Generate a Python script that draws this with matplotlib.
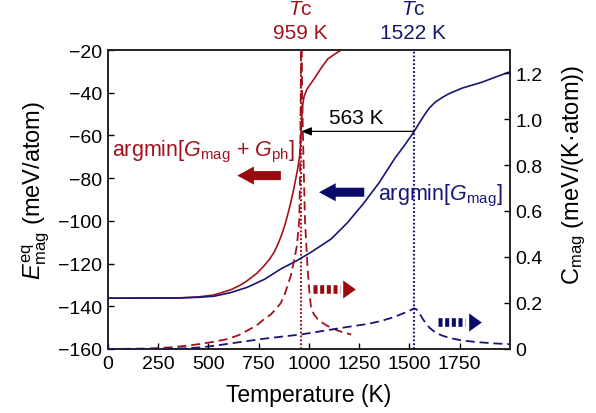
import matplotlib
matplotlib.use("Agg")
import matplotlib.pyplot as plt
from matplotlib.ticker import FixedLocator, FuncFormatter

plt.rcParams['font.family'] = ['Liberation Sans', 'DejaVu Sans']
plt.rcParams['mathtext.fontset'] = 'custom'
plt.rcParams['mathtext.rm'] = 'Liberation Sans'
plt.rcParams['mathtext.it'] = 'Liberation Sans:italic'
plt.rcParams['mathtext.bf'] = 'Liberation Sans:bold'
plt.rcParams['lines.scale_dashes'] = False

RED = '#a3121c'
BLUE = '#161675'
RED_ARROW = '#980a10'
BLUE_ARROW = '#0a0a6a'

# ---- data ----
# E_mag^eq from argmin[G_mag + G_ph] (left axis, meV/atom)
T_red_E = [0, 250, 350, 450, 527, 610, 660, 693, 740, 777, 805, 827, 845, 860, 880, 900,
           920, 943, 953, 958, 961, 964, 968, 975, 990, 1025, 1060, 1093, 1130, 1160, 1200]
E_red = [-136.2, -136.2, -136.1, -135.6, -134.7, -132.3, -130.0, -128.0, -124.6, -121.0,
         -117.8, -114.6, -111.0, -107.5, -102.0, -95.0, -87.0, -76.0, -70.0, -64.0, -58.0,
         -52.0, -46.0, -42.0, -38.3, -33.6, -28.5, -24.2, -21.8, -20.0, -17.0]

# E_mag^eq from argmin[G_mag] (left axis)
T_blue_E = [0, 350, 450, 527, 610, 693, 780, 860, 940, 1010, 1110, 1190, 1270, 1350, 1425,
            1480, 1522, 1550, 1577, 1600, 1627, 1660, 1693, 1760, 1860, 1930, 2000]
E_blue = [-136.2, -136.1, -135.8, -135.3, -133.6, -131.1, -127.3, -122.5, -118.6, -114.7,
          -108.5, -101.0, -92.0, -82.0, -71.0, -64.0, -58.3, -54.0, -50.0, -47.0, -44.5,
          -42.4, -40.6, -37.9, -35.1, -32.6, -30.2]

# C_mag from argmin[G_mag + G_ph] (right axis, meV/(K atom))
T_red_C = [0, 200, 310, 400, 460, 530, 593, 650, 693, 740, 777, 810, 835, 860, 880, 893,
           910, 927, 940, 952, 956, 959, 961, 963, 966, 972, 980, 993, 1002, 1010, 1025,
           1043, 1070, 1093, 1143, 1175, 1210]
C_red = [0.0, 0.002, 0.007, 0.015, 0.022, 0.032, 0.043, 0.060, 0.080, 0.103, 0.130, 0.150,
         0.174, 0.200, 0.240, 0.275, 0.320, 0.390, 0.450, 0.565, 0.800, 1.100, 1.400, 1.400,
         1.100, 0.850, 0.560, 0.350, 0.250, 0.180, 0.150, 0.130, 0.112, 0.100, 0.080, 0.071,
         0.063]

# C_mag from argmin[G_mag] (right axis)
T_blue_C = [0, 300, 380, 460, 530, 593, 680, 760, 877, 960, 1093, 1200, 1293, 1360, 1420,
            1460, 1500, 1522, 1535, 1550, 1565, 1577, 1600, 1627, 1660, 1700, 1760, 1850,
            1930, 2000]
C_blue = [0.0, 0.001, 0.003, 0.007, 0.014, 0.022, 0.033, 0.043, 0.055, 0.063, 0.082, 0.097,
          0.109, 0.122, 0.138, 0.152, 0.166, 0.177, 0.172, 0.155, 0.132, 0.117, 0.092, 0.073,
          0.059, 0.048, 0.037, 0.029, 0.024, 0.021]

Tc_red = 959
Tc_blue = 1522
E_arrow = -58.1

x_ticks = [0, 250, 500, 750, 1000, 1250, 1500, 1750]
yl_ticks = [-20, -40, -60, -80, -100, -120, -140, -160]
yr_ticks = [0, 0.2, 0.4, 0.6, 0.8, 1.0, 1.2]

# ---- figure ----
fig = plt.figure(figsize=(5.96, 4.14), dpi=100)
ax = fig.add_axes([0.1812, 0.1546, 0.6745, 0.7222])
ax2 = ax.twinx()

ax.set_xlim(0, 2000)
ax.set_ylim(-160, -20)
ax2.set_ylim(0, 1.3)

ax.plot(T_red_E, E_red, color=RED, lw=1.2, zorder=3)
ax.plot(T_blue_E, E_blue, color=BLUE, lw=1.2, zorder=3)
ax2.plot(T_red_C, C_red, color=RED, lw=1.3, linestyle=(0, (6.5, 3.5)), zorder=3)
ax2.plot(T_blue_C, C_blue, color=BLUE, lw=1.3, linestyle=(0, (6.5, 3.5)), zorder=3)

ax.axvline(Tc_red, color=RED, lw=1.5, linestyle=(0, (1.3, 1.5)), zorder=2)
ax.axvline(Tc_blue, color=BLUE, lw=1.5, linestyle=(0, (1.3, 1.5)), zorder=2)

# 563 K arrow
ax.annotate('', xy=(Tc_red + 3, E_arrow), xytext=(Tc_blue, E_arrow),
            arrowprops=dict(arrowstyle='-|>,head_length=0.6,head_width=0.25', color='black',
                            lw=0.9, shrinkA=0, shrinkB=0, mutation_scale=10))
ax.text(1235, -51.5, '563 K', fontsize=15, ha='center', va='center', color='black')

# text labels
ax.text(930, -67.5, r'argmin[$G_{\mathrm{mag}}$ + $G_{\mathrm{ph}}$]', color=RED,
        fontsize=15.5, ha='right', va='center')
ax.text(1345, -87.8, r'argmin[$G_{\mathrm{mag}}$]', color=BLUE, fontsize=15.5,
        ha='left', va='center')

# big left arrows
for (x0, x1, yv, col) in [(860, 643, -78.8, RED_ARROW), (1275, 1050, -86.6, BLUE_ARROW)]:
    ax.annotate('', xy=(x1, yv), xytext=(x0, yv),
                arrowprops=dict(arrowstyle='simple,head_width=13,head_length=12,tail_width=6.5',
                                fc=col, ec='none', shrinkA=0, shrinkB=0, mutation_scale=1))

# dashed-shaft right arrows (right axis)
head = [(-0.7, 1.0), (0.7, 0.0), (-0.7, -1.0), (-0.7, 1.0)]
for (xs0, xs1, xh, cv, col) in [(1018, 1152, 1197, 0.26, RED_ARROW),
                                 (1643, 1777, 1826, 0.116, BLUE_ARROW)]:
    ax2.plot([xs0, xs1], [cv, cv], color=col, lw=6.2, linestyle=(0, (2.9, 1.9)),
             solid_capstyle='butt', dash_capstyle='butt')
    ax2.plot([xh], [cv], marker=head, markersize=13, color=col, mec='none', ls='none')

# Tc labels above axes
for (tc, col, lab) in [(Tc_red, RED, '959 K'), (Tc_blue, BLUE, '1522 K')]:
    ax.text(tc - 3, -0.5, r'$T$c', color=col, fontsize=15, ha='center', va='center',
            clip_on=False)
    ax.text(tc - 3, -12.0, lab, color=col, fontsize=15, ha='center', va='center',
            clip_on=False)

# axes styling
ax.xaxis.set_major_locator(FixedLocator(x_ticks))
ax.yaxis.set_major_locator(FixedLocator(yl_ticks))
ax2.yaxis.set_major_locator(FixedLocator(yr_ticks))
ax.yaxis.set_major_formatter(FuncFormatter(lambda v, p: ('\u2212%d' % abs(v)) if v < 0 else '%d' % v))
ax2.yaxis.set_major_formatter(FuncFormatter(lambda v, p: '0' if v == 0 else '%.1f' % v))

ax.tick_params(axis='both', direction='in', length=4, width=1.0, labelsize=14, pad=4)
ax2.tick_params(axis='y', direction='in', length=4, width=1.0, labelsize=14, pad=4)
for a in (ax, ax2):
    for s in a.spines.values():
        s.set_linewidth(1.2)
        s.set_color('#222222')

ax.set_xlabel('Temperature (K)', fontsize=16.5, labelpad=8)
ax.set_ylabel(r'$E_{\mathrm{mag}}^{\mathrm{eq}}$ (meV/atom)', fontsize=17)
ax2.set_ylabel('C$_{\\mathrm{mag}}$ (meV/(K\u00b7atom))', fontsize=17)
ax.yaxis.set_label_coords(-0.14, 0.535)
ax2.yaxis.set_label_coords(1.125, 0.585)

fig.savefig('out.png', dpi=100)
